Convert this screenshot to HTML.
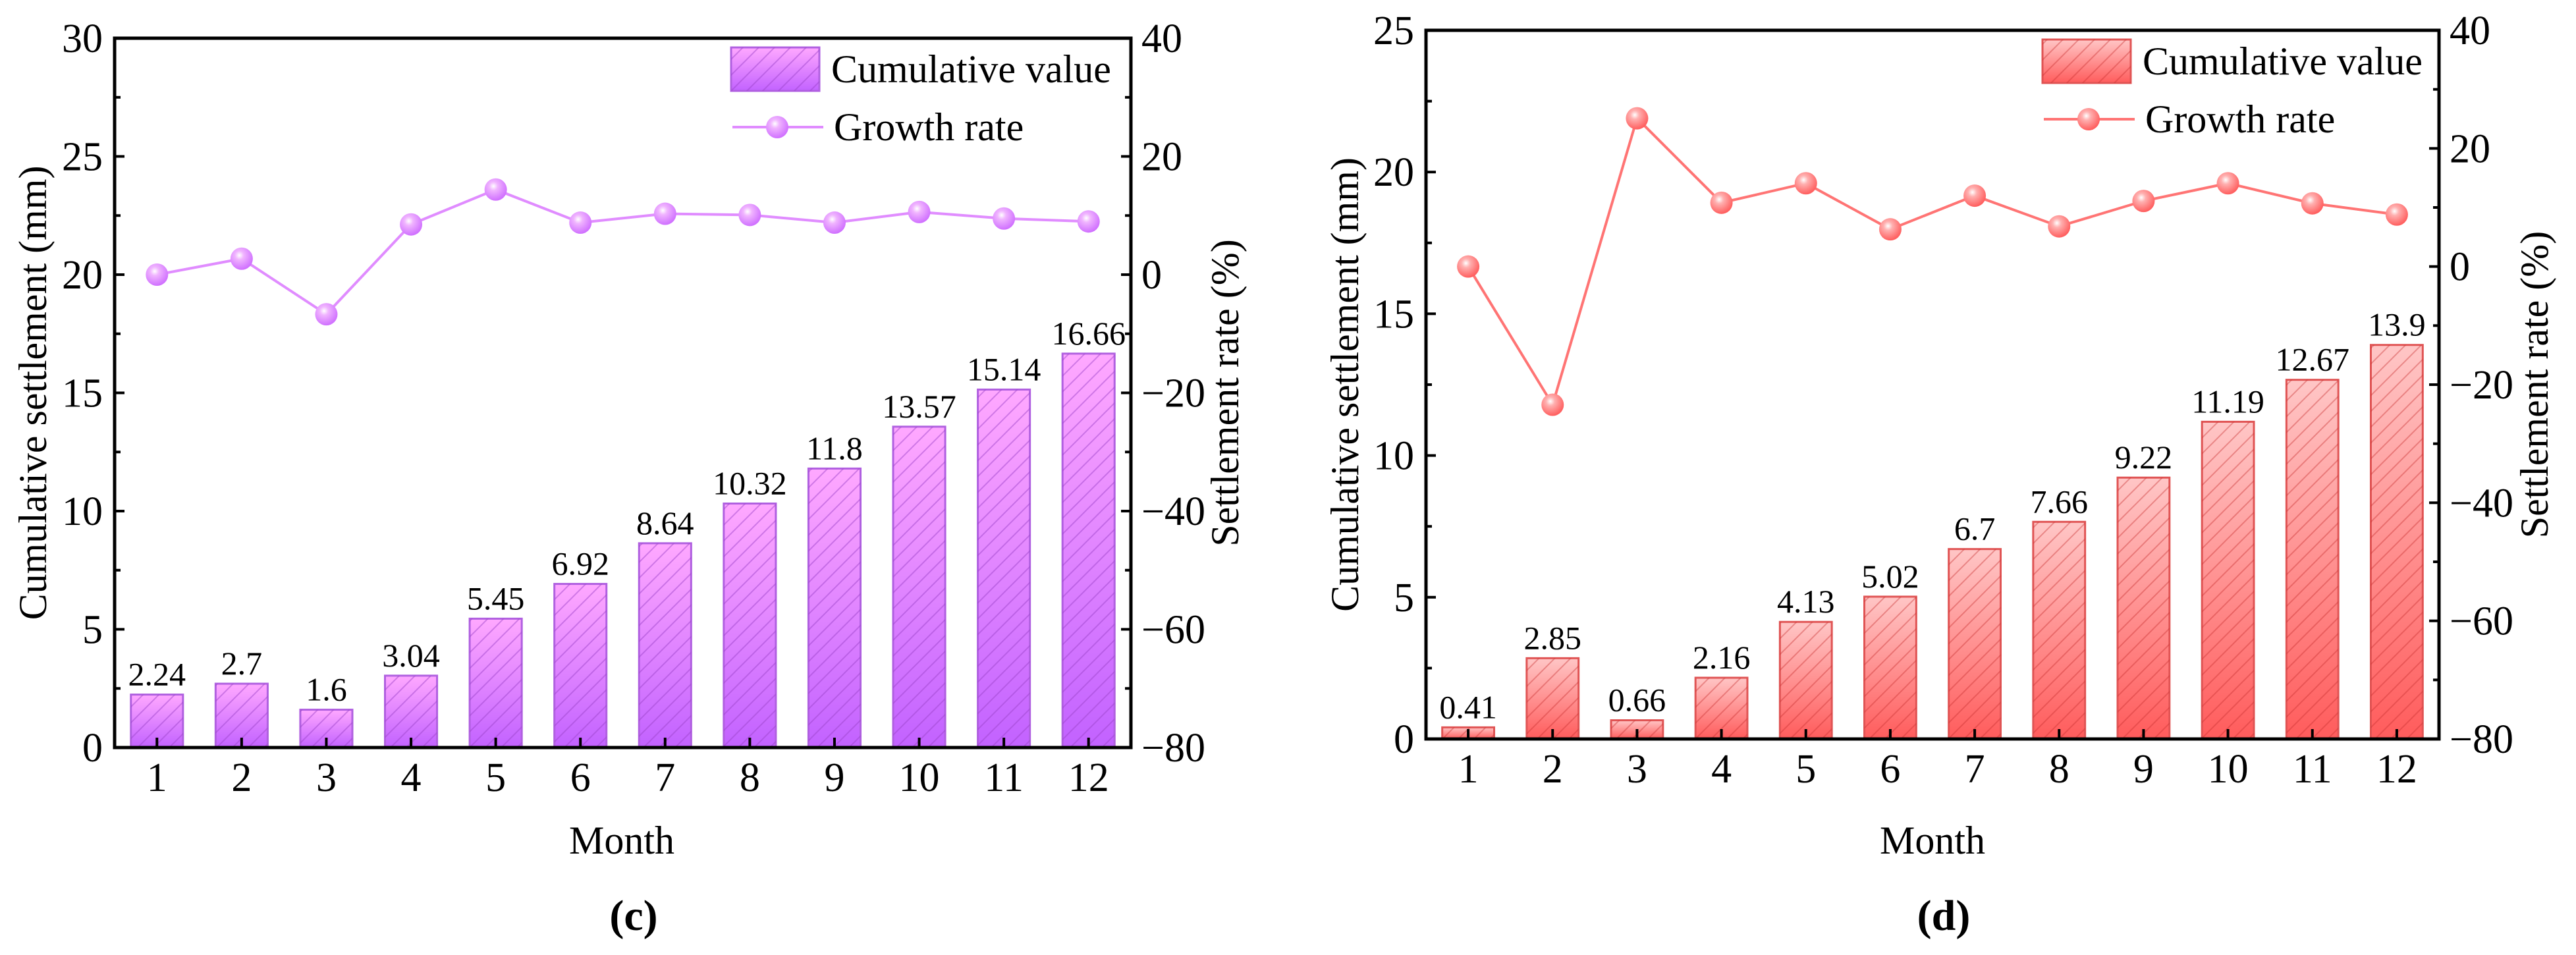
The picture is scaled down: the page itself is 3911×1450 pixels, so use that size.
<!DOCTYPE html>
<html><head><meta charset="utf-8"><style>
html,body{margin:0;padding:0;background:#fff;}
svg{display:block;}
text{font-family:"Liberation Serif","DejaVu Serif",serif;}
</style></head><body>
<svg id="fig" width="3911" height="1450" viewBox="0 0 3911 1450" xmlns="http://www.w3.org/2000/svg" font-family="Liberation Serif, serif">
<defs>
<linearGradient id="gp" x1="0" y1="0" x2="0" y2="1"><stop offset="0" stop-color="#ffa8ff"/><stop offset="1" stop-color="#c262ff"/></linearGradient>
<linearGradient id="gr" x1="0" y1="0" x2="0" y2="1"><stop offset="0" stop-color="#ffc6c6"/><stop offset="1" stop-color="#ff5c5c"/></linearGradient>
<pattern id="hp" patternUnits="userSpaceOnUse" width="24" height="24"><path d="M-6,30 L30,-6 M-6,6 L6,-6 M18,30 L30,18" stroke="#9a40c8" stroke-opacity="0.45" stroke-width="2"/></pattern>
<pattern id="hr" patternUnits="userSpaceOnUse" width="24" height="24"><path d="M-6,30 L30,-6 M-6,6 L6,-6 M18,30 L30,18" stroke="#c83030" stroke-opacity="0.4" stroke-width="2"/></pattern>
<radialGradient id="mp" cx="0.4" cy="0.35" r="0.65"><stop offset="0" stop-color="#ffffff"/><stop offset="0.3" stop-color="#f0b4ff"/><stop offset="1" stop-color="#d070ff"/></radialGradient>
<radialGradient id="mr" cx="0.4" cy="0.35" r="0.65"><stop offset="0" stop-color="#ffffff"/><stop offset="0.3" stop-color="#ffb0b0"/><stop offset="1" stop-color="#ff5e5e"/></radialGradient>
</defs>
<g id="chartC"></g>
<g id="chartD"></g>
</svg>
<script>
const months = ["1","2","3","4","5","6","7","8","9","10","11","12"];
const cumC = [2.24,2.7,1.6,3.04,5.45,6.92,8.64,10.32,11.8,13.57,15.14,16.66];
const rateC = [0,2.7,-6.7,8.5,14.4,8.8,10.3,10.1,8.8,10.6,9.5,9.0];
const cumD = [0.41,2.85,0.66,2.16,4.13,5.02,6.7,7.66,9.22,11.19,12.67,13.9];
const rateD = [0,-23.4,25.1,10.8,14.1,6.3,12.0,6.8,11.1,14.1,10.7,8.8];
const leftTicksC = [0,5,10,15,20,25,30];
const leftTicksD = [0,5,10,15,20,25];
const rightTicks = [-80,-60,-40,-20,0,20,40];

const NS="http://www.w3.org/2000/svg";
const FF='"Liberation Serif", "DejaVu Serif", serif';
function mk(parent,tag,attrs,text){const e=document.createElementNS(NS,tag);for(const k in attrs)e.setAttribute(k,attrs[k]);if(text!==undefined){e.textContent=text;e.setAttribute('font-family',FF);}parent.appendChild(e);return e;}

function draw(g,cfg){
  const {L,R,T,B,ymax,cum,rate,ticks,fill,hatch,edge,lineCol,marker,legX,legY,lab,ytX,yrX,monthX,labX} = cfg;
  const n=months.length, band=(R-L)/n, bw=band*0.615;
  const xs=i=>L+band*(i+0.5);
  const yl=v=>B-(v/ymax)*(B-T);
  const yr=v=>B-((v+80)/120)*(B-T);
  cum.forEach((v,i)=>{
    const x=xs(i)-bw/2,y=yl(v),h=B-y;
    let r=mk(g,'rect',{x:x,y:y,width:bw,height:h,fill:fill,stroke:edge,'stroke-width':3});
    
    
    let r2=mk(g,'rect',{x:x,y:y,width:bw,height:h,fill:hatch});
    
    
    let t=mk(g,'text',{x:xs(i),y:y-14,'font-size':50,'text-anchor':'middle'},String(v));
    
    
  });
  const pts=rate.map((v,i)=>xs(i)+','+yr(v)).join(' ');
  let pl=mk(g,'polyline',{points:pts,fill:'none',stroke:lineCol,'stroke-width':4});
  
  
  rate.forEach((v,i)=>{
    let c=mk(g,'circle',{cx:xs(i),cy:yr(v),r:17,fill:marker});
    
    
  });
  let f=mk(g,'rect',{x:L,y:T,width:R-L,height:B-T,fill:'none',stroke:'#000','stroke-width':5});
  
  
  ticks.forEach((v,k)=>{
    const y=yl(v);
    mk(g,'line',{x1:L,x2:L+15,y1:y,y2:y,stroke:'#000','stroke-width':4});
    let t=mk(g,'text',{x:L-18,y:y+21,'font-size':62,'text-anchor':'end'},String(v));
    
    
    if(k<ticks.length-1){const ym=yl(v+2.5);mk(g,'line',{x1:L,x2:L+9,y1:ym,y2:ym,stroke:'#000','stroke-width':4});}
  });
  rightTicks.forEach((v,k)=>{
    const y=yr(v);
    mk(g,'line',{x1:R,x2:R-15,y1:y,y2:y,stroke:'#000','stroke-width':4});
    let t=mk(g,'text',{x:R+16,y:y+21,'font-size':62,'text-anchor':'start'},(v<0?'\u2212':'')+Math.abs(v));
    
    
    if(k<rightTicks.length-1){const ym=yr(v+10);mk(g,'line',{x1:R,x2:R-9,y1:ym,y2:ym,stroke:'#000','stroke-width':4});}
  });
  months.forEach((m,i)=>{
    mk(g,'line',{x1:xs(i),x2:xs(i),y1:B,y2:B-15,stroke:'#000','stroke-width':4});
    let t=mk(g,'text',{x:xs(i),y:B+66,'font-size':62,'text-anchor':'middle'},m);
    
    
  });
  let mt=mk(g,'text',{x:monthX,y:1296,'font-size':60,'text-anchor':'middle'},'Month');
  
  
  let ytl=mk(g,'text',{x:0,y:0,'font-size':60,'text-anchor':'middle',transform:`translate(${ytX},${(T+B)/2}) rotate(-90)`},'Cumulative settlement (mm)');
  
  
  let ytr=mk(g,'text',{x:0,y:0,'font-size':60,'text-anchor':'middle',transform:`translate(${yrX},${(T+B)/2}) rotate(-90)`},'Settlement rate (%)');
  
  
  let pt=mk(g,'text',{x:labX,y:1412,'font-size':66,'font-weight':'bold','text-anchor':'middle'},lab);
  
  
  const lg=mk(g,'g',{});
  
  
  mk(lg,'rect',{x:legX,y:legY,width:134,height:66,fill:fill,stroke:edge,'stroke-width':3});
  mk(lg,'rect',{x:legX,y:legY,width:134,height:66,fill:hatch});
  let l1=mk(lg,'text',{x:legX+152,y:legY+53,'font-size':60},'Cumulative value');
  
  
  const ly=legY+121;
  mk(lg,'line',{x1:legX+2,x2:legX+140,y1:ly,y2:ly,stroke:lineCol,'stroke-width':4});
  mk(lg,'circle',{cx:legX+70,cy:ly,r:17,fill:marker});
  let l2=mk(lg,'text',{x:legX+156,y:ly+20,'font-size':60},'Growth rate');
  
  
}
draw(document.getElementById('chartC'),{L:174,R:1717,T:58,B:1135,ymax:30,cum:cumC,rate:rateC,ticks:leftTicksC,
 fill:'url(#gp)',hatch:'url(#hp)',edge:'#b060e0',lineCol:'#e08cff',marker:'url(#mp)',legX:1110,legY:72,lab:'(c)',ytX:70,yrX:1880,monthX:944,labX:962});
draw(document.getElementById('chartD'),{L:2165,R:3703,T:46,B:1122,ymax:25,cum:cumD,rate:rateD,ticks:leftTicksD,
 fill:'url(#gr)',hatch:'url(#hr)',edge:'#e05454',lineCol:'#ff7474',marker:'url(#mr)',legX:3101,legY:60,lab:'(d)',ytX:2062,yrX:3868,monthX:2934,labX:2951});
</script>
</body></html>
